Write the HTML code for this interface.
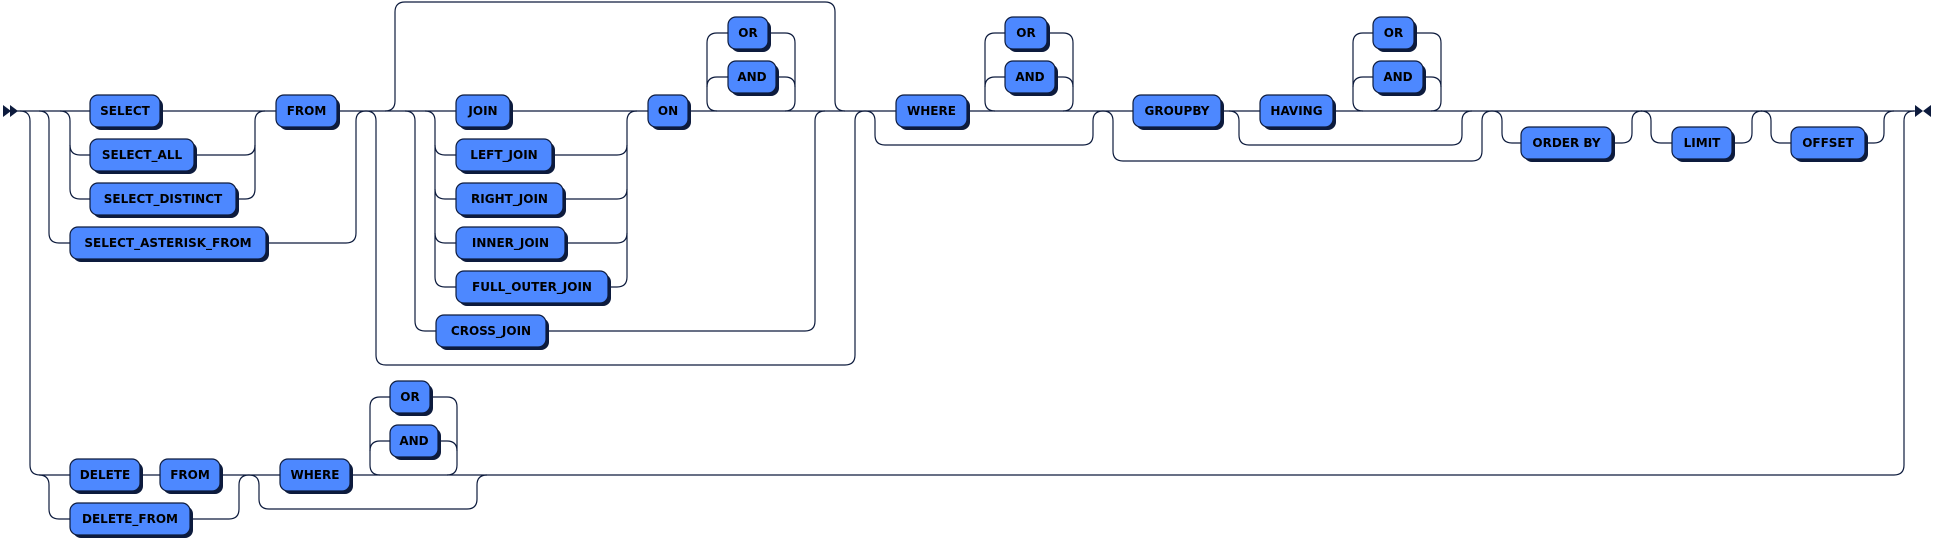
<!DOCTYPE html>
<html><head><meta charset="utf-8"><style>
html,body{margin:0;padding:0;background:#fff;}
svg{display:block;}
.l{fill:none;stroke:#0d1b3d;stroke-width:1.2;}
.s{fill:#0d1b3d;}
.b{fill:#4d88ff;stroke:#0d1b3d;stroke-width:1.2;}
text{font-family:"DejaVu Sans","Liberation Sans",sans-serif;font-weight:bold;font-size:12px;fill:#000;text-anchor:middle;}
</style></head><body>
<svg width="1933" height="539" viewBox="0 0 1933 539" xmlns="http://www.w3.org/2000/svg">
<g class="l">
<path d="M17,111 H1915"/>
<path d="M40,475 H1894"/>
<path d="M20,111 Q30,111 30,121 V465 Q30,475 40,475"/>
<path d="M1894,475 Q1904,475 1904,465 V121 Q1904,111 1914,111"/>
<!-- select -->
<path d="M39,111 Q49,111 49,121 V233 Q49,243 59,243 H70"/>
<path d="M266,243 H346 Q356,243 356,233 V121 Q356,111 366,111"/>
<path d="M60,111 Q70,111 70,121 V189 Q70,199 80,199 H90"/>
<path d="M70,145 Q70,155 80,155 H90"/>
<path d="M255,121 V189"/>
<path d="M255,121 Q255,111 265,111"/>
<path d="M194,155 H245 Q255,155 255,145"/>
<path d="M236,199 H245 Q255,199 255,189"/>
<!-- joins -->
<path d="M366,111 Q376,111 376,121 V355 Q376,365 386,365 H845 Q855,365 855,355 V121 Q855,111 865,111"/>
<path d="M385,111 Q395,111 395,101 V12 Q395,2 405,2 H825 Q835,2 835,12 V101 Q835,111 845,111"/>
<path d="M405,111 Q415,111 415,121 V321 Q415,331 425,331 H436"/>
<path d="M546,331 H805 Q815,331 815,321 V121 Q815,111 825,111"/>
<path d="M425,111 Q435,111 435,121 V277 Q435,287 445,287 H456"/>
<path d="M435,145 Q435,155 445,155 H456"/>
<path d="M435,189 Q435,199 445,199 H456"/>
<path d="M435,233 Q435,243 445,243 H456"/>
<path d="M627,121 V277"/>
<path d="M627,121 Q627,111 637,111"/>
<path d="M552,155 H617 Q627,155 627,145"/>
<path d="M563,199 H617 Q627,199 627,189"/>
<path d="M565,243 H617 Q627,243 627,233"/>
<path d="M608,287 H617 Q627,287 627,277"/>
<!-- ON loop -->
<path d="M717,111 Q707,111 707,101 V43 Q707,33 717,33 H728"/>
<path d="M707,87 Q707,77 717,77 H728"/>
<path d="M768,33 H785 Q795,33 795,43 V101 Q795,111 785,111"/>
<path d="M776,77 H785 Q795,77 795,87"/>
<!-- where -->
<path d="M865,111 Q875,111 875,121 V135 Q875,145 885,145 H1083 Q1093,145 1093,135 V121 Q1093,111 1103,111"/>
<path d="M995,111 Q985,111 985,101 V43 Q985,33 995,33 H1005"/>
<path d="M985,87 Q985,77 995,77 H1005"/>
<path d="M1047,33 H1063 Q1073,33 1073,43 V101 Q1073,111 1063,111"/>
<path d="M1055,77 H1063 Q1073,77 1073,87"/>
<!-- groupby -->
<path d="M1103,111 Q1113,111 1113,121 V151 Q1113,161 1123,161 H1472 Q1482,161 1482,151 V121 Q1482,111 1492,111"/>
<path d="M1229,111 Q1239,111 1239,121 V135 Q1239,145 1249,145 H1452 Q1462,145 1462,135 V121 Q1462,111 1472,111"/>
<path d="M1363,111 Q1353,111 1353,101 V43 Q1353,33 1363,33 H1373"/>
<path d="M1353,87 Q1353,77 1363,77 H1373"/>
<path d="M1414,33 H1431 Q1441,33 1441,43 V101 Q1441,111 1431,111"/>
<path d="M1423,77 H1431 Q1441,77 1441,87"/>
<!-- order/limit/offset -->
<path d="M1492,111 Q1502,111 1502,121 V133 Q1502,143 1512,143 H1521"/>
<path d="M1612,143 H1622 Q1632,143 1632,133 V121 Q1632,111 1642,111"/>
<path d="M1641,111 Q1651,111 1651,121 V133 Q1651,143 1661,143 H1672"/>
<path d="M1732,143 H1742 Q1752,143 1752,133 V121 Q1752,111 1762,111"/>
<path d="M1761,111 Q1771,111 1771,121 V133 Q1771,143 1781,143 H1791"/>
<path d="M1865,143 H1874 Q1884,143 1884,133 V121 Q1884,111 1894,111"/>
<!-- bottom -->
<path d="M39,475 Q49,475 49,485 V509 Q49,519 59,519 H70"/>
<path d="M190,519 H229 Q239,519 239,509 V485 Q239,475 249,475"/>
<path d="M249,475 Q259,475 259,485 V499 Q259,509 269,509 H467 Q477,509 477,499 V485 Q477,475 487,475"/>
<path d="M380,475 Q370,475 370,465 V407 Q370,397 380,397 H390"/>
<path d="M370,451 Q370,441 380,441 H390"/>
<path d="M430,397 H447 Q457,397 457,407 V465 Q457,475 447,475"/>
<path d="M438,441 H447 Q457,441 457,451"/>
</g>
<polygon class="s" points="3,105 11,111 3,117"/>
<polygon class="s" points="10,105 18,111 10,117"/>
<polygon class="s" points="1915,105 1923,111 1915,117"/>
<polygon class="s" points="1931,105 1923,111 1931,117"/>

<g>
<rect class="s" x="93" y="98" width="70" height="32" rx="8"/><rect class="b" x="90" y="95" width="70" height="32" rx="8"/><text x="125" y="115">SELECT</text>
<rect class="s" x="93" y="142" width="104" height="32" rx="8"/><rect class="b" x="90" y="139" width="104" height="32" rx="8"/><text x="142" y="159">SELECT_ALL</text>
<rect class="s" x="93" y="186" width="146" height="32" rx="8"/><rect class="b" x="90" y="183" width="146" height="32" rx="8"/><text x="163" y="203">SELECT_DISTINCT</text>
<rect class="s" x="73" y="230" width="196" height="32" rx="8"/><rect class="b" x="70" y="227" width="196" height="32" rx="8"/><text x="168" y="247">SELECT_ASTERISK_FROM</text>
<rect class="s" x="279" y="98" width="61" height="32" rx="8"/><rect class="b" x="276" y="95" width="61" height="32" rx="8"/><text x="306.5" y="115">FROM</text>
<rect class="s" x="459" y="98" width="54" height="32" rx="8"/><rect class="b" x="456" y="95" width="54" height="32" rx="8"/><text x="483" y="115">JOIN</text>
<rect class="s" x="459" y="142" width="96" height="32" rx="8"/><rect class="b" x="456" y="139" width="96" height="32" rx="8"/><text x="504" y="159">LEFT_JOIN</text>
<rect class="s" x="459" y="186" width="107" height="32" rx="8"/><rect class="b" x="456" y="183" width="107" height="32" rx="8"/><text x="509.5" y="203">RIGHT_JOIN</text>
<rect class="s" x="459" y="230" width="109" height="32" rx="8"/><rect class="b" x="456" y="227" width="109" height="32" rx="8"/><text x="510.5" y="247">INNER_JOIN</text>
<rect class="s" x="459" y="274" width="152" height="32" rx="8"/><rect class="b" x="456" y="271" width="152" height="32" rx="8"/><text x="532" y="291">FULL_OUTER_JOIN</text>
<rect class="s" x="439" y="318" width="110" height="32" rx="8"/><rect class="b" x="436" y="315" width="110" height="32" rx="8"/><text x="491" y="335">CROSS_JOIN</text>
<rect class="s" x="651" y="98" width="40" height="32" rx="8"/><rect class="b" x="648" y="95" width="40" height="32" rx="8"/><text x="668" y="115">ON</text>
<rect class="s" x="731" y="20" width="40" height="32" rx="8"/><rect class="b" x="728" y="17" width="40" height="32" rx="8"/><text x="748" y="37">OR</text>
<rect class="s" x="731" y="64" width="48" height="32" rx="8"/><rect class="b" x="728" y="61" width="48" height="32" rx="8"/><text x="752" y="81">AND</text>
<rect class="s" x="899" y="98" width="71" height="32" rx="8"/><rect class="b" x="896" y="95" width="71" height="32" rx="8"/><text x="931.5" y="115">WHERE</text>
<rect class="s" x="1008" y="20" width="42" height="32" rx="8"/><rect class="b" x="1005" y="17" width="42" height="32" rx="8"/><text x="1026" y="37">OR</text>
<rect class="s" x="1008" y="64" width="50" height="32" rx="8"/><rect class="b" x="1005" y="61" width="50" height="32" rx="8"/><text x="1030" y="81">AND</text>
<rect class="s" x="1136" y="98" width="88" height="32" rx="8"/><rect class="b" x="1133" y="95" width="88" height="32" rx="8"/><text x="1177" y="115">GROUPBY</text>
<rect class="s" x="1263" y="98" width="73" height="32" rx="8"/><rect class="b" x="1260" y="95" width="73" height="32" rx="8"/><text x="1296.5" y="115">HAVING</text>
<rect class="s" x="1376" y="20" width="41" height="32" rx="8"/><rect class="b" x="1373" y="17" width="41" height="32" rx="8"/><text x="1393.5" y="37">OR</text>
<rect class="s" x="1376" y="64" width="50" height="32" rx="8"/><rect class="b" x="1373" y="61" width="50" height="32" rx="8"/><text x="1398" y="81">AND</text>
<rect class="s" x="1524" y="130" width="91" height="32" rx="8"/><rect class="b" x="1521" y="127" width="91" height="32" rx="8"/><text x="1566.5" y="147">ORDER BY</text>
<rect class="s" x="1675" y="130" width="60" height="32" rx="8"/><rect class="b" x="1672" y="127" width="60" height="32" rx="8"/><text x="1702" y="147">LIMIT</text>
<rect class="s" x="1794" y="130" width="74" height="32" rx="8"/><rect class="b" x="1791" y="127" width="74" height="32" rx="8"/><text x="1828" y="147">OFFSET</text>
<rect class="s" x="73" y="462" width="70" height="32" rx="8"/><rect class="b" x="70" y="459" width="70" height="32" rx="8"/><text x="105" y="479">DELETE</text>
<rect class="s" x="163" y="462" width="60" height="32" rx="8"/><rect class="b" x="160" y="459" width="60" height="32" rx="8"/><text x="190" y="479">FROM</text>
<rect class="s" x="73" y="506" width="120" height="32" rx="8"/><rect class="b" x="70" y="503" width="120" height="32" rx="8"/><text x="130" y="523">DELETE_FROM</text>
<rect class="s" x="283" y="462" width="70" height="32" rx="8"/><rect class="b" x="280" y="459" width="70" height="32" rx="8"/><text x="315" y="479">WHERE</text>
<rect class="s" x="393" y="384" width="40" height="32" rx="8"/><rect class="b" x="390" y="381" width="40" height="32" rx="8"/><text x="410" y="401">OR</text>
<rect class="s" x="393" y="428" width="48" height="32" rx="8"/><rect class="b" x="390" y="425" width="48" height="32" rx="8"/><text x="414" y="445">AND</text>
</g>
</svg>
</body></html>
